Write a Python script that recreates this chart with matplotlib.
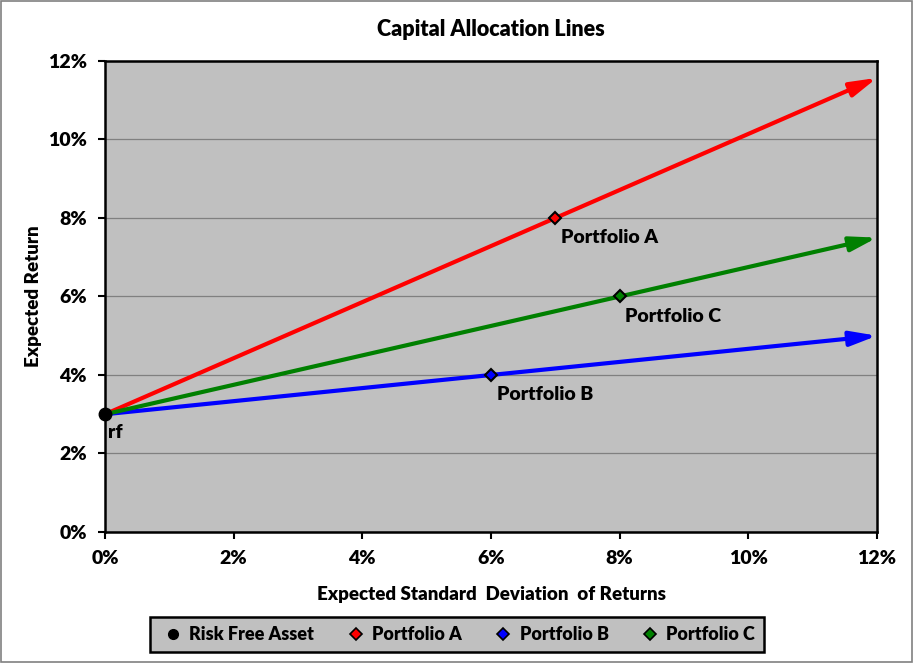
import matplotlib.pyplot as plt
from matplotlib.ticker import FuncFormatter
from matplotlib.lines import Line2D
from matplotlib.patches import Rectangle

plt.rcParams['font.family'] = ['Lato', 'DejaVu Sans']
plt.rcParams['font.weight'] = 'heavy'

# data (percent)
rf = (0, 3)
portfolio_names = ["Portfolio A", "Portfolio B", "Portfolio C"]
portfolio_sd = [7, 6, 8]
portfolio_ret = [8, 4, 6]
line_end_sd = [12, 12, 12]
line_end_ret = [11.57, 5.0, 7.5]
colors = ["#ff0000", "#0000ff", "#008000"]
ticks = [0, 2, 4, 6, 8, 10, 12]

fig = plt.figure(figsize=(9.14, 6.63), dpi=100)
fig.patches.append(Rectangle((0.001, 0.001), 0.997, 0.997, transform=fig.transFigure,
                             fill=False, edgecolor='#808080', linewidth=1.2))
ax = fig.add_axes([0.1149, 0.1976, 0.8446, 0.7104])
ax.set_facecolor('#c0c0c0')

ax.set_xlim(0, 12)
ax.set_ylim(0, 12)
ax.set_xticks(ticks)
ax.set_yticks(ticks)
pct = FuncFormatter(lambda v, p: f"{v:.0f}%")
ax.xaxis.set_major_formatter(pct)
ax.yaxis.set_major_formatter(pct)
ax.tick_params(labelsize=14, length=5, width=1.5, direction='out', pad=8)
ax.grid(axis='y', color='#808080', linewidth=0.9)
ax.set_axisbelow(True)
for s in ax.spines.values():
    s.set_linewidth(1.8)
    s.set_color('black')

# capital allocation lines with arrow heads
for i in range(3):
    ax.annotate('', xy=(line_end_sd[i], line_end_ret[i]), xytext=rf,
                arrowprops=dict(arrowstyle='-|>,head_length=0.8,head_width=0.22',
                                color=colors[i], lw=3,
                                mutation_scale=20, shrinkA=0, shrinkB=0),
                annotation_clip=False, zorder=3)

for i in range(3):
    ax.plot(portfolio_sd[i], portfolio_ret[i], marker='D', markersize=6,
            markerfacecolor=colors[i], markeredgecolor='black',
            markeredgewidth=1.5, linestyle='none', zorder=5, clip_on=False)
    ax.annotate(portfolio_names[i], (portfolio_sd[i], portfolio_ret[i]),
                xytext=(4, -8), textcoords='offset points', ha='left', va='top',
                fontsize=14, fontweight='heavy')

ax.plot(rf[0], rf[1], marker='o', markersize=9, color='black',
        linestyle='none', zorder=6, clip_on=False)
ax.annotate('rf', rf, xytext=(2, -7), textcoords='offset points',
            ha='left', va='top', fontsize=14, fontweight='heavy')

ax.set_title("Capital Allocation Lines", fontsize=15.5, fontweight='heavy', pad=18)
ax.set_xlabel("Expected Standard  Deviation  of Returns", fontsize=13.5,
              fontweight='heavy', labelpad=14)
ax.set_ylabel("Expected Return", fontsize=13.5, fontweight='heavy', labelpad=4)

handles = [Line2D([], [], marker='o', color='black', linestyle='none', markersize=7)]
for c in colors:
    handles.append(Line2D([], [], marker='D', markerfacecolor=c, markeredgecolor='black',
                          markeredgewidth=1.2, linestyle='none', markersize=6))
leg = fig.legend(handles, ["Risk Free Asset"] + portfolio_names, loc='center',
                 bbox_to_anchor=(0.5, 0.043), ncol=4,
                 prop={'weight': 'heavy', 'size': 13}, frameon=True,
                 fancybox=False, handletextpad=0.1, columnspacing=1.5,
                 borderpad=0.5, handlelength=1.6)
leg.get_frame().set_facecolor('#c0c0c0')
leg.get_frame().set_edgecolor('black')
leg.get_frame().set_linewidth(1.8)
leg.get_frame().set_alpha(1)

fig.savefig("out.png", dpi=100)
